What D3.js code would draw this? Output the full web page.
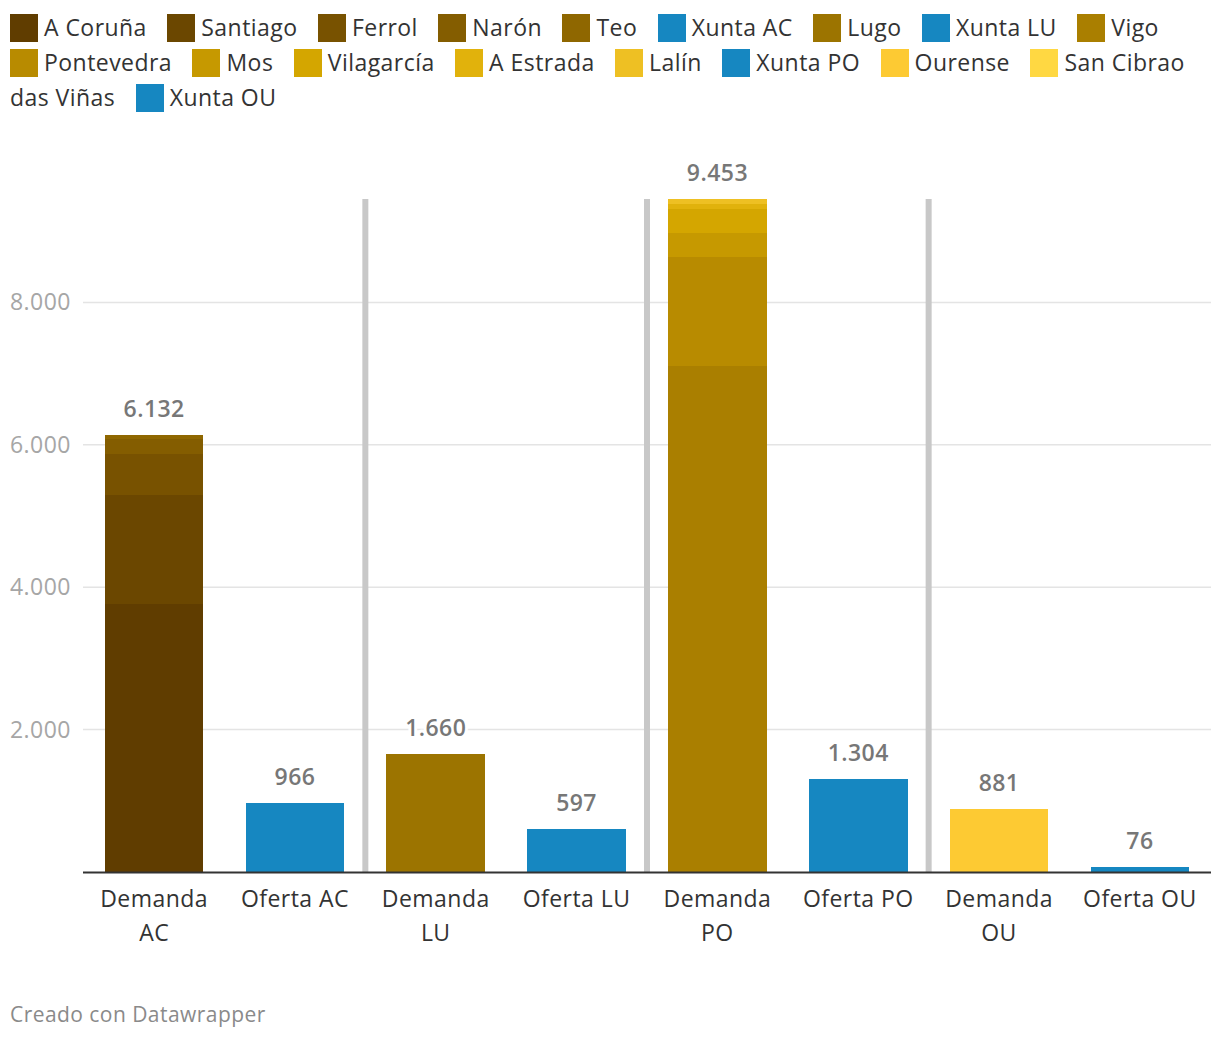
<!DOCTYPE html>
<html>
<head>
<meta charset="utf-8">
<script src="https://cdn.jsdelivr.net/npm/d3@7"></script>
<style>
  body { margin: 0; background: #fff; font-family: "Open Sans", sans-serif; }
  #wrap { position: relative; width: 1220px; height: 1040px; }
  #legend {
    position: absolute; left: 10px; top: 10px; width: 1203px;
    font-size: 23px; line-height: 35px; color: #333; letter-spacing: 0.45px;
  }
  #legend .last { margin-right: 14px; }
  #legend .nw { white-space: nowrap; }
  #legend .sw {
    display: inline-block; width: 28px; height: 28px;
    vertical-align: -6px; margin-right: 6px;
  }
  svg { position: absolute; left: 0; top: 0; }
  svg text { letter-spacing: 0.45px; }
</style>
</head>
<body>
<div id="wrap">
  <div id="legend"></div>
</div>
<script>
const categories = ["Demanda AC", "Oferta AC", "Demanda LU", "Oferta LU",
                    "Demanda PO", "Oferta PO", "Demanda OU", "Oferta OU"];

const series = ["A Coruña", "Santiago", "Ferrol", "Narón", "Teo", "Xunta AC",
                "Lugo", "Xunta LU", "Vigo", "Pontevedra", "Mos", "Vilagarcía",
                "A Estrada", "Lalín", "Xunta PO", "Ourense", "San Cibrao das Viñas", "Xunta OU"];

// which bar each series belongs to (index in categories)
const seriesBar = [0, 0, 0, 0, 0, 1, 2, 3, 4, 4, 4, 4, 4, 4, 5, 6, 6, 7];
const seriesValues = [3764, 1531, 576, 211, 50, 966, 1660, 597,
                      7107, 1531, 337, 337, 70, 71, 1304, 881, 0, 76];

const yTicks = [2000, 4000, 6000, 8000];

const blue = "#1687c1";
const colors = ["#603d00", "#6b4700", "#785200", "#845d00", "#8f6700", blue,
                "#9c7400", blue, "#aa7f00", "#b88b00", "#c69900", "#d4a600",
                "#e1b20c", "#eec023", blue, "#fdca33", "#ffd842", blue];

const width = 1220, height = 1040;
const baseY = 872;
const plotTop = 199;

const table = categories.map((c, i) => {
    const row = {category: c};
    series.forEach((s, j) => { row[s] = seriesBar[j] === i ? seriesValues[j] : 0; });
    return row;
});
const totals = categories.map((c, i) => d3.sum(series, s => table[i][s]));

const fmt = d3.formatLocale({decimal: ",", thousands: ".", grouping: [3], currency: ["", ""]}).format(",d");

// legend: swatch glued to first word, every word its own span so a wrapped name stays tidy
const legend = d3.select("#legend");
series.forEach((s, i) => {
    const words = s.split(" ");
    const first = legend.append("span").attr("class", "nw");
    first.append("span").attr("class", "sw").style("background", colors[i]);
    first.append("span").text(words[0]);
    let lastSpan = first;
    words.slice(1).forEach(w => {
        legend.append("span").text(" ");
        lastSpan = legend.append("span").text(w);
    });
    lastSpan.classed("last", true);
    legend.append("span").text(" ");
});

const svg = d3.select("#wrap")
    .append("svg")
    .attr("width", width)
    .attr("height", height);

const x = d3.scaleBand()
    .domain(categories)
    .range([83, 1211])
    .paddingInner(0.3)
    .paddingOuter(0.155);

const y = d3.scaleLinear()
    .domain([0, d3.max(totals)])
    .range([baseY, plotTop]);

// grid
svg.append("g")
    .selectAll("line")
    .data(yTicks)
    .join("line")
    .attr("x1", 83)
    .attr("x2", 1211)
    .attr("y1", d => y(d))
    .attr("y2", d => y(d))
    .attr("stroke", "#e4e4e4")
    .attr("stroke-width", 1.5);

svg.append("g")
    .selectAll("text")
    .data(yTicks)
    .join("text")
    .attr("x", 10)
    .attr("y", d => y(d) + 8)
    .attr("font-size", 23)
    .attr("fill", "#a6a6a6")
    .text(d => fmt(d));

// separators between provinces
const seps = [1, 3, 5];
const sepX = i => x(categories[i]) + x.bandwidth() + (x.step() - x.bandwidth()) / 2;
svg.append("g")
    .selectAll("line")
    .data(seps)
    .join("line")
    .attr("x1", sepX)
    .attr("x2", sepX)
    .attr("y1", plotTop)
    .attr("y2", baseY)
    .attr("stroke", "#c8c8c8")
    .attr("stroke-width", 6);

// stacked bars
const stacked = d3.stack().keys(series)(table);
svg.append("g")
    .attr("shape-rendering", "crispEdges")
    .selectAll("g")
    .data(stacked)
    .join("g")
    .attr("fill", (d, i) => colors[i])
    .selectAll("rect")
    .data(d => d.filter(p => p[1] - p[0] > 0))
    .join("rect")
    .attr("x", p => x(p.data.category))
    .attr("width", x.bandwidth())
    .attr("y", p => y(p[1]))
    .attr("height", p => y(p[0]) - y(p[1]));

// baseline
svg.append("line")
    .attr("x1", 83)
    .attr("x2", 1211)
    .attr("y1", baseY + 0.5)
    .attr("y2", baseY + 0.5)
    .attr("stroke", "#333")
    .attr("stroke-width", 2);

// value labels
svg.append("g")
    .selectAll("text")
    .data(categories)
    .join("text")
    .attr("x", c => x(c) + x.bandwidth() / 2)
    .attr("y", (c, i) => y(totals[i]) - 18)
    .attr("text-anchor", "middle")
    .attr("font-size", 23)
    .attr("font-weight", 600)
    .attr("fill", "#777")
    .attr("stroke", "#fff")
    .attr("stroke-width", 6)
    .attr("stroke-linejoin", "round")
    .attr("paint-order", "stroke")
    .text((c, i) => fmt(totals[i]));

// x labels with wrapping
const xLabels = svg.append("g")
    .selectAll("text")
    .data(categories)
    .join("text")
    .attr("x", c => x(c) + x.bandwidth() / 2)
    .attr("y", 907)
    .attr("text-anchor", "middle")
    .attr("font-size", 23)
    .attr("fill", "#333");

xLabels.each(function(c) {
    const t = d3.select(this);
    t.text(c);
    if (this.getComputedTextLength() > 122) {
        const words = c.split(" ");
        const last = words.pop();
        t.text(null);
        t.append("tspan").attr("x", x(c) + x.bandwidth() / 2).text(words.join(" "));
        t.append("tspan").attr("x", x(c) + x.bandwidth() / 2).attr("dy", 34).text(last);
    }
});

// footer
svg.append("text")
    .attr("x", 10)
    .attr("y", 1022)
    .attr("font-size", 21)
    .attr("fill", "#8a8a8a")
    .text("Creado con Datawrapper");
</script>
</body>
</html>
